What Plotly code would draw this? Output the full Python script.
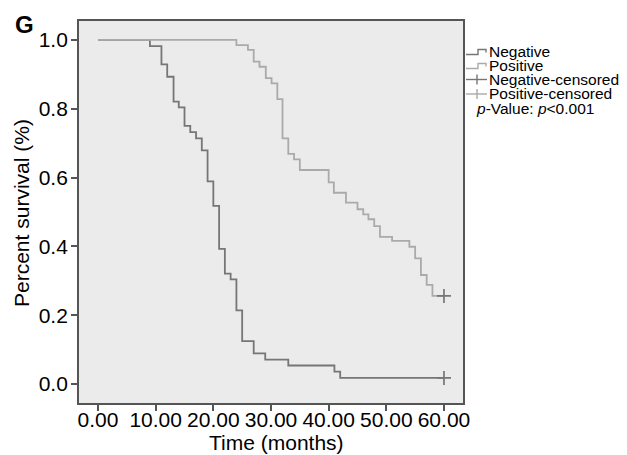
import plotly.graph_objects as go

# Kaplan-Meier step data
neg_time = [0, 9.0, 11.0, 12.0, 13.1, 14.0, 15.0, 16.0, 17.0, 18.0, 19.0, 20.0, 21.0,
            22.0, 23.0, 24.0, 25.0, 27.0, 29.0, 33.0, 41.0, 42.0, 60.0]
neg_surv = [1.0, 0.982, 0.929, 0.893, 0.821, 0.804, 0.750, 0.732, 0.714, 0.679, 0.589,
            0.518, 0.393, 0.321, 0.304, 0.214, 0.125, 0.089, 0.071, 0.054, 0.036, 0.018, 0.018]
pos_time = [0, 24.0, 26.0, 27.0, 28.0, 29.1, 30.1, 31.1, 32.0, 33.0, 34.0, 35.0, 40.0,
            40.9, 43.0, 45.0, 46.0, 46.9, 47.9, 48.9, 51.0, 54.0, 55.0, 56.0, 57.0, 58.0, 60.0]
pos_surv = [1.0, 0.985, 0.971, 0.937, 0.922, 0.889, 0.874, 0.828, 0.714, 0.669, 0.653,
            0.622, 0.586, 0.556, 0.527, 0.508, 0.493, 0.479, 0.459, 0.428, 0.416, 0.399,
            0.365, 0.317, 0.288, 0.256, 0.256]
neg_cens_time = [60.0]
neg_cens_surv = [0.018]
pos_cens_time = [60.0]
pos_cens_surv = [0.256]

legend_labels = ["Negative", "Positive", "Negative-censored", "Positive-censored"]
x_ticks = [0, 10, 20, 30, 40, 50, 60]
y_ticks = [0.0, 0.2, 0.4, 0.6, 0.8, 1.0]

NEG_COL = "#767676"
POS_COL = "#aaaaaa"
FONT = "Liberation Sans, Arial, sans-serif"

W, H = 627, 455
L, R, T, B = 79, 463, 21, 403


def px(xp):
    return (xp - L) / (R - L)


def py(yp):
    return (B - yp) / (B - T)


fig = go.Figure()
fig.add_trace(go.Scatter(x=neg_time, y=neg_surv, mode="lines", line=dict(shape="hv", color=NEG_COL, width=1.8),
                         name=legend_labels[0], showlegend=False))
fig.add_trace(go.Scatter(x=pos_time, y=pos_surv, mode="lines", line=dict(shape="hv", color=POS_COL, width=1.8),
                         name=legend_labels[1], showlegend=False))
fig.add_trace(go.Scatter(x=neg_cens_time, y=neg_cens_surv, mode="markers",
                         marker=dict(symbol="cross-thin", size=10, line=dict(color=NEG_COL, width=1.7)),
                         name=legend_labels[2], showlegend=False))
fig.add_trace(go.Scatter(x=pos_cens_time, y=pos_cens_surv, mode="markers",
                         marker=dict(symbol="cross-thin", size=10, line=dict(color=NEG_COL, width=1.7)),
                         name=legend_labels[3], showlegend=False))

shapes = []
annotations = []
# custom legend
leg_y = [51.5, 65.5, 79.5, 94]
leg_cols = [NEG_COL, POS_COL, NEG_COL, POS_COL]
for i, (lab, yc, col) in enumerate(zip(legend_labels, leg_y, leg_cols)):
    annotations.append(dict(x=px(488), y=py(yc), xref="paper", yref="paper", text=lab, showarrow=False,
                            xanchor="left", yanchor="middle", borderpad=0,
                            font=dict(size=15.5, color="black", family=FONT)))
    if i < 2:
        path = (f"M{px(466)},{py(yc+3)} L{px(478)},{py(yc+3)} L{px(478)},{py(yc-2)} "
                f"L{px(486)},{py(yc-2)} L{px(486)},{py(yc+1)}")
        shapes.append(dict(type="path", xref="paper", yref="paper", path=path,
                           line=dict(color=col, width=1.4)))
    else:
        shapes.append(dict(type="line", xref="paper", yref="paper", x0=px(466), x1=px(487),
                           y0=py(yc), y1=py(yc), line=dict(color=col, width=1.4)))
        shapes.append(dict(type="line", xref="paper", yref="paper", x0=px(477), x1=px(477),
                           y0=py(yc - 5), y1=py(yc + 5), line=dict(color=col, width=1.4)))

annotations.append(dict(x=px(475), y=py(108.5), xref="paper", yref="paper",
                        text="<i>p</i>-Value: <i>p</i>&lt;0.001", showarrow=False, borderpad=0,
                        xanchor="left", yanchor="middle", font=dict(size=15.5, color="black", family=FONT)))
annotations.append(dict(x=px(13), y=py(24), xref="paper", yref="paper", text="<b>G</b>", showarrow=False,
                        xanchor="left", yanchor="middle", font=dict(size=24, color="black", family=FONT)))
# axis titles
annotations.append(dict(x=px(276), y=py(442), xref="paper", yref="paper", text="Time (months)",
                        showarrow=False, xanchor="center", yanchor="middle", borderpad=0,
                        font=dict(size=21, color="black", family=FONT)))
annotations.append(dict(x=px(21.5), y=py(213.5), xref="paper", yref="paper", text="Percent survival (%)",
                        showarrow=False, xanchor="center", yanchor="middle", textangle=-90, borderpad=0,
                        font=dict(size=21, color="black", family=FONT)))

fig.update_layout(
    width=W, height=H,
    margin=dict(l=L, r=W - R, t=T, b=H - B, autoexpand=False),
    paper_bgcolor="white", plot_bgcolor="#ebebeb",
    font=dict(family=FONT, size=21, color="black"),
    shapes=shapes, annotations=annotations,
    showlegend=False,
)
fig.update_xaxes(range=[-3.3, 63.3], tickvals=x_ticks, tickformat=".2f", ticks="outside", ticklen=6,
                 tickcolor="#555", tickwidth=1.5, showline=True, linecolor="#555", linewidth=1.8, mirror=True,
                 showgrid=False, zeroline=False, tickfont=dict(size=21), automargin=False,
                 ticklabelstandoff=-9)
fig.update_yaxes(range=[-0.055, 1.055], tickvals=y_ticks, tickformat=".1f", ticks="outside", ticklen=6,
                 tickcolor="#555", tickwidth=1.5, showline=True, linecolor="#555", linewidth=1.8, mirror=True,
                 showgrid=False, zeroline=False, tickfont=dict(size=21), automargin=False,
                 ticklabelstandoff=-1)

fig.write_html("out.html", config={"displayModeBar": False},
               post_script="document.body.style.margin='0';")
